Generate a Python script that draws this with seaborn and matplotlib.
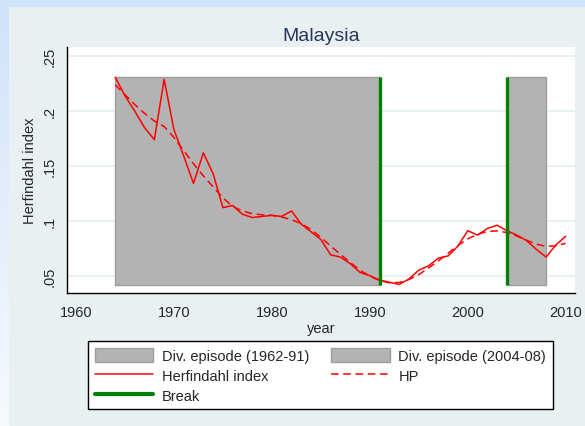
import numpy as np
import matplotlib
matplotlib.use("Agg")
import matplotlib.pyplot as plt
from matplotlib.patches import Patch, Rectangle
from matplotlib.lines import Line2D
import seaborn as sns

# Herfindahl index of Malaysia, yearly
years = list(range(1964, 2011))
herf = [0.231, 0.214, 0.200, 0.185, 0.174, 0.229, 0.183, 0.159, 0.134, 0.162,
        0.143, 0.112, 0.114, 0.106, 0.103, 0.104, 0.105, 0.104, 0.109, 0.097,
        0.090, 0.083, 0.069, 0.067, 0.061, 0.053, 0.050, 0.046, 0.044, 0.042,
        0.047, 0.055, 0.059, 0.066, 0.068, 0.077, 0.091, 0.087, 0.093, 0.096,
        0.091, 0.087, 0.082, 0.074, 0.067, 0.078, 0.086]
hp = [0.224, 0.215, 0.206, 0.198, 0.191, 0.186, 0.176, 0.164, 0.152, 0.141,
      0.131, 0.121, 0.113, 0.109, 0.1065, 0.1055, 0.105, 0.1035, 0.101, 0.0975,
      0.092, 0.085, 0.077, 0.0695, 0.062, 0.055, 0.0495, 0.0455, 0.0435, 0.0438,
      0.0465, 0.051, 0.057, 0.0635, 0.0705, 0.0775, 0.0835, 0.0878, 0.0903, 0.0908,
      0.0893, 0.0862, 0.0823, 0.0787, 0.0768, 0.0772, 0.0795]

# diversification episodes (shaded) and structural breaks
episode_start = [1964, 2004]
episode_end = [1991, 2008]
episode_labels = ["Div. episode (1962-91)", "Div. episode (2004-08)"]
episode_low, episode_high = 0.0418, 0.2309
breaks = [1991, 2004]

xticks = [1960, 1970, 1980, 1990, 2000, 2010]
yticks = [0.05, 0.10, 0.15, 0.20, 0.25]
ytick_labels = [".05", ".1", ".15", ".2", ".25"]

sns.set_theme(style="white")
plt.rcParams["font.family"] = ["Liberation Sans", "DejaVu Sans"]

fig = plt.figure(figsize=(5.85, 4.27), dpi=100)
fig.patch.set_facecolor("#e8f0f2")

# screenshot border: top strip and left gradient strip
fig.patches.append(Rectangle((0, 1 - 7 / 427), 1, 7 / 427, transform=fig.transFigure,
                             color="#cfe3fb", zorder=0))
gax = fig.add_axes([0, 0, 9 / 585, 1 - 7 / 427])
grad = np.linspace(0, 1, 200).reshape(-1, 1)
gax.imshow(grad, aspect="auto", extent=(0, 1, 0, 1),
           cmap=matplotlib.colors.LinearSegmentedColormap.from_list("g", ["#f7fafd", "#cfe3fb"]),
           origin="lower")
gax.axis("off")

ax = fig.add_axes([66.7 / 585, 1 - 294 / 427, (575 - 66.7) / 585, (294 - 48.3) / 427])
ax.set_facecolor("white")

# grid behind everything
ax.set_axisbelow(True)
ax.yaxis.grid(True, color="#e6eff0", lw=1.3)
ax.xaxis.grid(False)

for s, e in zip(episode_start, episode_end):
    ax.fill_between([s, e], episode_low, episode_high, color="#b3b3b3",
                    edgecolor="#9e9e9e", lw=1, zorder=1)

sns.lineplot(x=years, y=herf, ax=ax, color="red", lw=1.1, zorder=3)
sns.lineplot(x=years, y=hp, ax=ax, color="red", lw=1.1, linestyle=(0, (5, 3)), zorder=3)
ax.vlines(breaks, episode_low, episode_high, color="#008000", lw=2.4, zorder=4)

ax.set_xlim(1959.05, 2010.95)
ax.set_ylim(0.0342, 0.2582)
ax.set_xticks(xticks)
ax.set_xticklabels([str(t) for t in xticks], fontsize=10.5)
ax.set_yticks(yticks)
ax.set_yticklabels(ytick_labels, fontsize=10.5, rotation=90, va="center")
ax.tick_params(axis="both", direction="out", length=6, width=1, color="black", pad=3)
ax.tick_params(axis="y", pad=1.5)

for side in ["top", "right"]:
    ax.spines[side].set_visible(False)
for side in ["left", "bottom"]:
    ax.spines[side].set_color("black")
    ax.spines[side].set_linewidth(1)

ax.set_xlabel("year", fontsize=10.5, labelpad=1)
ax.set_ylabel("Herfindahl index", fontsize=10.5, labelpad=4)
ax.set_title("Malaysia", fontsize=14, color="#27365a", pad=5.5)

# legend: row-major order via column filling
handles = [
    Patch(facecolor="#b3b3b3", edgecolor="#9e9e9e", label=episode_labels[0]),
    Line2D([], [], color="red", lw=1.1, label="Herfindahl index"),
    Line2D([], [], color="#008000", lw=3, label="Break"),
    Patch(facecolor="#b3b3b3", edgecolor="#9e9e9e", label=episode_labels[1]),
    Line2D([], [], color="red", lw=1.1, linestyle=(0, (5, 3)), label="HP"),
]
leg = fig.legend(handles=handles, ncol=2, loc="upper center",
                 bbox_to_anchor=(320.5 / 585, 1 - 342 / 427), fontsize=10.5,
                 frameon=True, fancybox=False, edgecolor="black", framealpha=1,
                 handlelength=4.0, handleheight=1.1, handletextpad=0.6,
                 labelspacing=0.35, columnspacing=1.5, borderpad=0.45,
                 borderaxespad=0)
leg.get_frame().set_linewidth(1)

fig.savefig("out.png", dpi=100, facecolor=fig.get_facecolor())
